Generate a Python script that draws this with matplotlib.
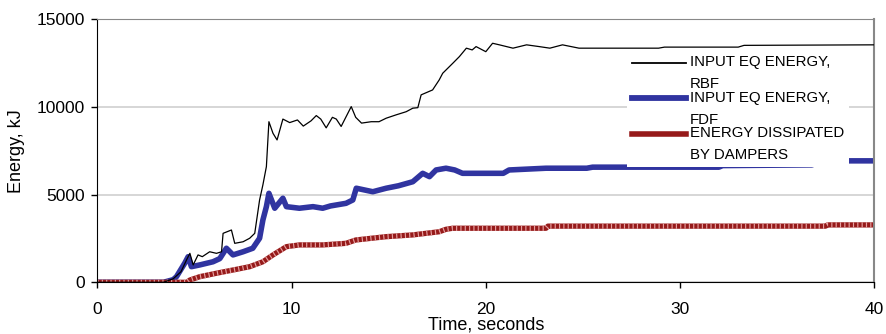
import numpy as np
import matplotlib
matplotlib.use("Agg")
import matplotlib.pyplot as plt
from matplotlib.lines import Line2D
from matplotlib.legend_handler import HandlerLine2D

plt.rcParams['font.family'] = ['Liberation Sans', 'DejaVu Sans']

# input energy, RBF (kJ)
t_rbf = [0, 3.4, 3.9, 4.3, 4.6, 4.76, 4.93, 5.18, 5.4, 5.78, 6.13, 6.39, 6.47, 6.9, 7.07,
         7.5, 7.84, 8.1, 8.35, 8.52, 8.7, 8.83, 9.04, 9.25, 9.55, 9.9, 10.3, 10.6, 11.0,
         11.27, 11.5, 11.78, 12.1, 12.3, 12.55, 13.07, 13.3, 13.6, 14.1, 14.5, 14.87,
         15.38, 15.9, 16.24, 16.5, 16.67, 17.26, 17.6, 17.78, 18.3, 18.64, 19.0, 19.3,
         19.5, 20.0, 20.35, 20.7, 21.4, 22.1, 22.75, 23.3, 23.95, 24.8, 28.9, 29.2,
         33.0, 33.3, 40]
e_rbf = [0, 0, 200, 600, 1300, 1650, 990, 1560, 1460, 1740, 1650, 1740, 2790, 2980, 2220,
         2310, 2510, 2790, 4690, 5550, 6590, 9150, 8490, 8110, 9300, 9100, 9250, 8900, 9200,
         9500, 9300, 8800, 9400, 9300, 8880, 10010, 9400, 9070, 9150, 9150, 9350,
         9540, 9720, 9920, 9950, 10680, 10960, 11530, 11910, 12480, 12860, 13340, 13240,
         13430, 13140, 13620, 13530, 13340, 13530, 13430, 13340, 13530, 13340, 13340, 13400,
         13400, 13500, 13530]

# input energy, FDF (kJ)
t_fdf = [0, 3.4, 3.9, 4.07, 4.5, 4.67, 4.84, 5.27, 5.95, 6.3, 6.64, 6.98, 7.5, 8.0, 8.35,
         8.52, 8.7, 8.83, 9.13, 9.55, 9.73, 10.4, 11.1, 11.6, 12.0, 12.8, 13.15, 13.33,
         14.18, 14.87, 15.5, 16.24, 16.75, 17.1, 17.44, 17.95, 18.4, 18.8, 20.9, 21.2,
         23.1, 25.2, 25.5, 32.0, 32.2, 36.8, 37.2, 40]
e_fdf = [0, 0, 150, 320, 1100, 1460, 890, 990, 1170, 1350, 1940, 1560, 1740, 1940, 2510,
         3550, 4310, 5070, 4220, 4790, 4310, 4220, 4310, 4220, 4350, 4500, 4690, 5360,
         5160, 5360, 5500, 5730, 6210, 6020, 6400, 6500, 6400, 6210, 6210, 6400,
         6500, 6500, 6560, 6560, 6650, 6690, 6920, 6920]

# energy dissipated by dampers (kJ)
t_damp = [0, 4.6, 4.76, 5.27, 6.1, 6.98, 7.84, 8.52, 9.04, 9.73, 10.4, 11.6, 12.8, 13.3,
          14.87, 16.24, 17.6, 17.95, 18.3, 23.1, 23.2, 37.5, 37.6, 40]
e_damp = [0, 0, 130, 320, 510, 700, 890, 1170, 1560, 2030, 2130, 2130, 2220, 2410,
          2600, 2700, 2880, 3020, 3080, 3080, 3200, 3200, 3270, 3270]

labels = ["INPUT EQ ENERGY,\nRBF", "INPUT EQ ENERGY,\nFDF", "ENERGY DISSIPATED\nBY DAMPERS"]


class FirstLineHandler(HandlerLine2D):
    # put the legend line next to the first text line, as in the original
    def create_artists(self, legend, orig_handle, xdescent, ydescent, width, height,
                       fontsize, trans):
        return super().create_artists(legend, orig_handle, xdescent, ydescent, width,
                                      height + 1.45 * fontsize, fontsize, trans)


fig = plt.figure(figsize=(8.86, 3.34), dpi=100)
ax = fig.add_axes([0.110, 0.1548, 0.8766, 0.7882])

ax.plot(t_rbf, e_rbf, color='black', lw=0.9, zorder=3)
ax.plot(t_fdf, e_fdf, color='#3034a0', lw=4.0, solid_capstyle='butt', zorder=2)
ax.plot(t_damp, e_damp, color='#961a1a', lw=3.8, solid_capstyle='butt', zorder=2)
ax.plot(t_damp, e_damp, color='#e6a0a0', lw=3.8, ls=(0, (0.22, 0.6)),
        dash_capstyle='butt', zorder=2)

ax.set_xlim(0, 40)
ax.set_ylim(0, 15000)
ax.set_xticks([0, 10, 20, 30, 40])
ax.set_yticks([0, 5000, 10000, 15000])
ax.yaxis.grid(True, color='#d0d0d0', lw=1.2)
ax.set_axisbelow(True)
ax.tick_params(direction='out', length=4, width=1, labelsize=12.5, colors='black')
ax.tick_params(axis='x', pad=10)
ax.tick_params(axis='y', pad=5)
ax.tick_params(top=False, right=False)
ax.spines['top'].set_color('#888888')
ax.spines['right'].set_color('#888888')
ax.spines['right'].set_linewidth(1.5)
ax.spines['left'].set_color('black')
ax.spines['bottom'].set_color('black')

ax.set_xlabel("Time, seconds", fontsize=13, labelpad=0)
ax.set_ylabel("Energy, kJ", fontsize=13, labelpad=8)

# legend handles (style only)
h1 = Line2D([], [], color='black', lw=1.3)
h2 = Line2D([], [], color='#3034a0', lw=4.2)
h3 = Line2D([], [], color='#961a1a', lw=4.0)
leg = ax.legend([h1, h2, h3], labels, loc='upper left', bbox_to_anchor=(0.682, 0.88),
                fontsize=10.8, frameon=True, framealpha=1, facecolor='white',
                edgecolor='none', fancybox=False, borderaxespad=0, borderpad=0.3,
                handlelength=3.6, handletextpad=0.3, labelspacing=-0.05,
                handler_map={Line2D: FirstLineHandler()})
for txt in leg.get_texts():
    txt.set_linespacing(1.75)

fig.savefig("out.png", dpi=100)
